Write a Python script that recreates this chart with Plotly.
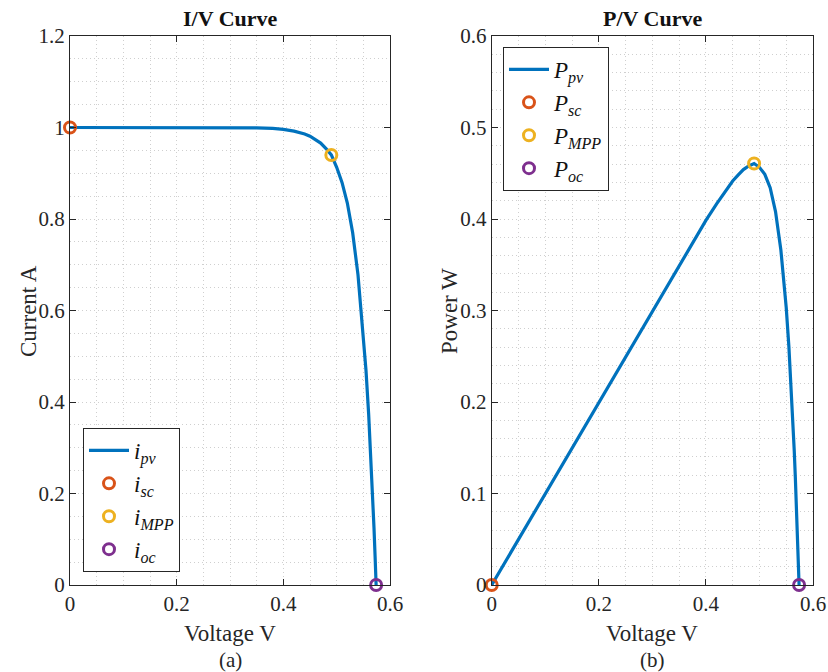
import plotly.graph_objects as go

# ---- data ----
voltage = [0.0, 0.05, 0.10, 0.15, 0.20, 0.25, 0.30, 0.35, 0.38, 0.40, 0.42, 0.44, 0.45,
           0.46, 0.47, 0.48, 0.49, 0.50, 0.51, 0.52, 0.53, 0.54, 0.55, 0.555, 0.56,
           0.565, 0.567, 0.57, 0.572, 0.574]
current = [1.0, 1.0, 1.0, 1.0, 1.0, 1.0, 1.0, 0.999, 0.998, 0.996, 0.992, 0.986, 0.981,
           0.974, 0.966, 0.954, 0.94, 0.913, 0.88, 0.835, 0.77, 0.678, 0.551, 0.469, 0.373,
           0.259, 0.208, 0.125, 0.064, 0.0]
power = [0.0, 0.05, 0.10, 0.15, 0.20, 0.25, 0.30, 0.3497, 0.3792, 0.3984, 0.4166, 0.4338, 0.4415,
         0.4480, 0.4540, 0.4579, 0.4606, 0.4565, 0.4488, 0.4342, 0.4081, 0.3661, 0.3031, 0.2603, 0.2089,
         0.1463, 0.1179, 0.0713, 0.0366, 0.0]

v_sc, i_sc, p_sc = 0.0, 1.0, 0.0
v_mpp, i_mpp, p_mpp = 0.49, 0.94, 0.4606
v_oc, i_oc, p_oc = 0.574, 0.0, 0.0

x_ticks = [0, 0.2, 0.4, 0.6]
y1_ticks = [0, 0.2, 0.4, 0.6, 0.8, 1.0, 1.2]
y2_ticks = [0, 0.1, 0.2, 0.3, 0.4, 0.5, 0.6]

# ---- style ----
W, H = 828, 672
FONT = "Liberation Serif"
BLUE, ORANGE, YELLOW, PURPLE = "#0072BD", "#D95319", "#EDB120", "#7E2F8E"
AX = "#262626"
GRID = "#cfcfcf"

def px_x(p):
    return p / W

def px_y(p):
    return 1 - p / H

fig = go.Figure()

def add_marker(x, y, color, name, xa, ya, legend):
    fig.add_trace(go.Scatter(
        x=[x], y=[y], mode="markers", name=name, xaxis=xa, yaxis=ya, legend=legend,
        marker=dict(symbol="circle-open", size=11, color=color, line=dict(width=3, color=color)),
        cliponaxis=False))

# left: I/V
fig.add_trace(go.Scatter(x=voltage, y=current, mode="lines", name="<i>i</i><sub><i>pv</i></sub>",
                         line=dict(color=BLUE, width=3.2), xaxis="x", yaxis="y", legend="legend",
                         cliponaxis=False))
add_marker(v_sc, i_sc, ORANGE, "<i>i</i><sub><i>sc</i></sub>", "x", "y", "legend")
add_marker(v_mpp, i_mpp, YELLOW, "<i>i</i><sub><i>MPP</i></sub>", "x", "y", "legend")
add_marker(v_oc, i_oc, PURPLE, "<i>i</i><sub><i>oc</i></sub>", "x", "y", "legend")

# right: P/V
fig.add_trace(go.Scatter(x=voltage, y=power, mode="lines", name="<i>P</i><sub><i>pv</i></sub>",
                         line=dict(color=BLUE, width=3.2), xaxis="x2", yaxis="y2", legend="legend2",
                         cliponaxis=False))
add_marker(v_sc, p_sc, ORANGE, "<i>P</i><sub><i>sc</i></sub>", "x2", "y2", "legend2")
add_marker(v_mpp, p_mpp, YELLOW, "<i>P</i><sub><i>MPP</i></sub>", "x2", "y2", "legend2")
add_marker(v_oc, p_oc, PURPLE, "<i>P</i><sub><i>oc</i></sub>", "x2", "y2", "legend2")

def axis(domain, rng, ticks, minor_dtick, anchor):
    return dict(
        domain=domain, range=rng, anchor=anchor, tickvals=ticks,
        ticktext=[("%g" % t) for t in ticks], automargin=False,
        showline=True, mirror="ticks", linecolor=AX, linewidth=1,
        ticks="inside", ticklen=6, tickcolor=AX, tickwidth=1,
        showgrid=True, gridcolor=GRID, griddash="1px,3px", gridwidth=1,
        minor=dict(dtick=minor_dtick, tick0=0, showgrid=True, gridcolor=GRID,
                   griddash="1px,3px", gridwidth=1, ticks=""),
        zeroline=False, tickfont=dict(family=FONT, size=21, color=AX),
        fixedrange=True)

ydom = [px_y(585), px_y(36)]
fig.update_layout(
    width=W, height=H, margin=dict(l=0, r=0, t=0, b=0, autoexpand=False),
    paper_bgcolor="white", plot_bgcolor="white",
    font=dict(family=FONT, color=AX),
    xaxis=axis([px_x(70), px_x(390)], [0, 0.6], x_ticks, 0.05, "y"),
    yaxis=axis(ydom, [0, 1.2], y1_ticks, 0.05, "x"),
    xaxis2=axis([px_x(491.7), px_x(813)], [0, 0.6], x_ticks, 0.05, "y2"),
    yaxis2=axis(ydom, [0, 0.6], y2_ticks, 0.02, "x2"),
    legend=dict(x=px_x(83), y=px_y(572), xanchor="left", yanchor="bottom",
                bgcolor="white", bordercolor=AX, borderwidth=1, itemwidth=40,
                font=dict(family=FONT, size=23, color="#111"), tracegroupgap=0),
    legend2=dict(x=px_x(503), y=px_y(47), xanchor="left", yanchor="top",
                 bgcolor="white", bordercolor=AX, borderwidth=1, itemwidth=40,
                 font=dict(family=FONT, size=23, color="#111"), tracegroupgap=0),
    showlegend=True,
)

ann = []
def text(x, y, s, size=19, angle=0, bold=False):
    ann.append(dict(x=px_x(x), y=px_y(y), xref="paper", yref="paper",
                    text=("<b>%s</b>" % s) if bold else s, showarrow=False,
                    xanchor="center", yanchor="middle", textangle=angle,
                    font=dict(family=FONT, size=size, color="#111" if bold else AX)))

text(230, 18, "I/V Curve", 22, bold=True)
text(652, 18, "P/V Curve", 22, bold=True)
text(230, 633, "Voltage V", 23)
text(652, 633, "Voltage V", 23)
text(230, 660, "(a)", 21)
text(652, 660, "(b)", 21)
text(28, 311, "Current A", 23, angle=-90)
text(449, 311, "Power W", 23, angle=-90)
fig.update_layout(annotations=ann)

fig.write_html("out.html")
